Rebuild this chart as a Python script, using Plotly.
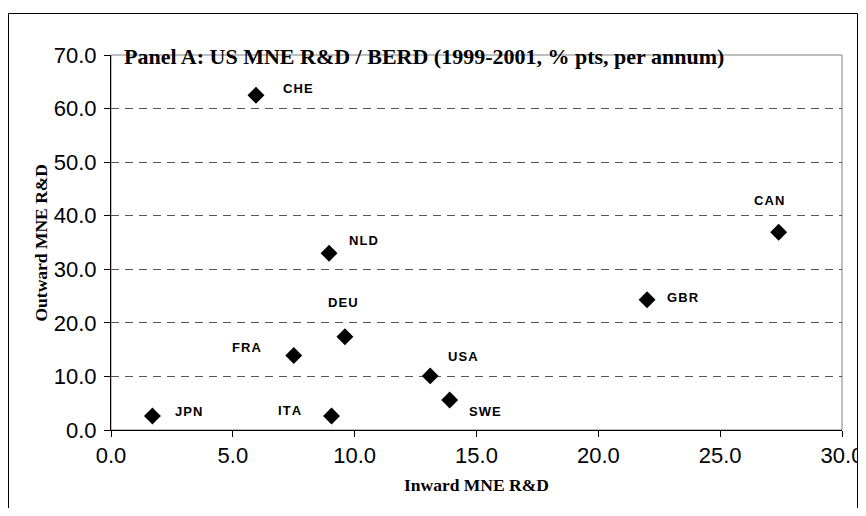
import plotly.graph_objects as go

# data
countries = ['CHE', 'NLD', 'DEU', 'FRA', 'USA', 'SWE', 'JPN', 'ITA', 'CAN', 'GBR']
inward = [5.95, 8.95, 9.6, 7.5, 13.1, 13.9, 1.7, 9.05, 27.4, 22.0]
outward = [62.5, 33.0, 17.4, 13.9, 10.1, 5.6, 2.6, 2.6, 36.9, 24.3]

x_ticks = [0, 5, 10, 15, 20, 25, 30]
y_ticks = [0, 10, 20, 30, 40, 50, 60, 70]

# label offsets in pixels (ax, ay)
offsets = {
    'CHE': (42, -7), 'NLD': (34, -13), 'DEU': (-2, -34), 'FRA': (-47, -8),
    'USA': (33, -19), 'SWE': (35, 11), 'JPN': (36, -5), 'ITA': (-42, -6),
    'CAN': (-10, -32), 'GBR': (36, -2),
}

# the page has an 8px body margin, so keep the figure inside the window
W, H = 850, 500
L, R, T, B = 103, 16, 47, 78
pw, ph = W - L - R, H - T - B

def px(x):
    return (x - L) / pw

def py(y):
    return (H - B - y) / ph

fig = go.Figure()
fig.add_trace(go.Scatter(
    x=inward, y=outward, mode='markers',
    marker=dict(symbol='diamond', size=13, color='black'),
    hoverinfo='text', text=countries, showlegend=False, cliponaxis=False,
))

annotations = []
for c, xi, yi in zip(countries, inward, outward):
    ax, ay = offsets[c]
    annotations.append(dict(
        x=xi, y=yi, xref='x', yref='y', text='<b>' + '\u200a'.join(c) + '</b>',
        showarrow=True, arrowcolor='rgba(0,0,0,0)', ax=ax, ay=ay,
        font=dict(family='Liberation Sans, Arial', size=13, color='black'),
    ))

annotations.append(dict(
    x=px(416), y=py(34), xref='paper', yref='paper', showarrow=False,
    text='<b>Panel A: US MNE R&D / BERD (1999-2001, % pts, per annum)</b>',
    font=dict(family='Liberation Serif, Times New Roman', size=22, color='black'),
))
annotations.append(dict(
    x=0.5, y=py(489), xref='paper', yref='paper', showarrow=False,
    text='<b>Inward MNE R&D</b>',
    font=dict(family='Liberation Serif, Times New Roman', size=17.5, color='black'),
))
annotations.append(dict(
    x=px(20), y=0.5, xref='paper', yref='paper', showarrow=False, textangle=-90,
    text='<b>Outward MNE R&D</b>',
    font=dict(family='Liberation Serif, Times New Roman', size=17.5, color='black'),
))

shapes = [
    # plot-area border
    dict(type='rect', xref='paper', yref='paper', x0=0, x1=1, y0=0, y1=1,
         line=dict(color='#808080', width=1), layer='below'),
    # outer chart frame
    dict(type='rect', xref='paper', yref='paper', x0=px(0.5), x1=px(849.5),
         y0=py(530), y1=py(5.5), line=dict(color='black', width=1)),
]

fig.update_layout(
    width=W, height=H,
    margin=dict(l=L, r=R, t=T, b=B),
    plot_bgcolor='white', paper_bgcolor='white',
    annotations=annotations, shapes=shapes,
    xaxis=dict(
        range=[0, 30], tickvals=x_ticks, tickformat='.1f', automargin=False,
        showgrid=False, zeroline=False,
        showline=True, linecolor='black', linewidth=1,
        ticks='outside', ticklen=6, tickcolor='black', ticklabeloverflow='allow',
        tickfont=dict(family='Liberation Sans, Arial', size=22, color='black'),
    ),
    yaxis=dict(
        range=[0, 70], tickvals=y_ticks, tickformat='.1f', automargin=False,
        showgrid=True, gridcolor='#555555', gridwidth=1, griddash='8px,6px',
        zeroline=False,
        showline=True, linecolor='black', linewidth=1,
        ticks='outside', ticklen=6, tickcolor='black', ticklabelstandoff=3,
        tickfont=dict(family='Liberation Sans, Arial', size=22, color='black'),
    ),
)

fig.write_html('out.html')
